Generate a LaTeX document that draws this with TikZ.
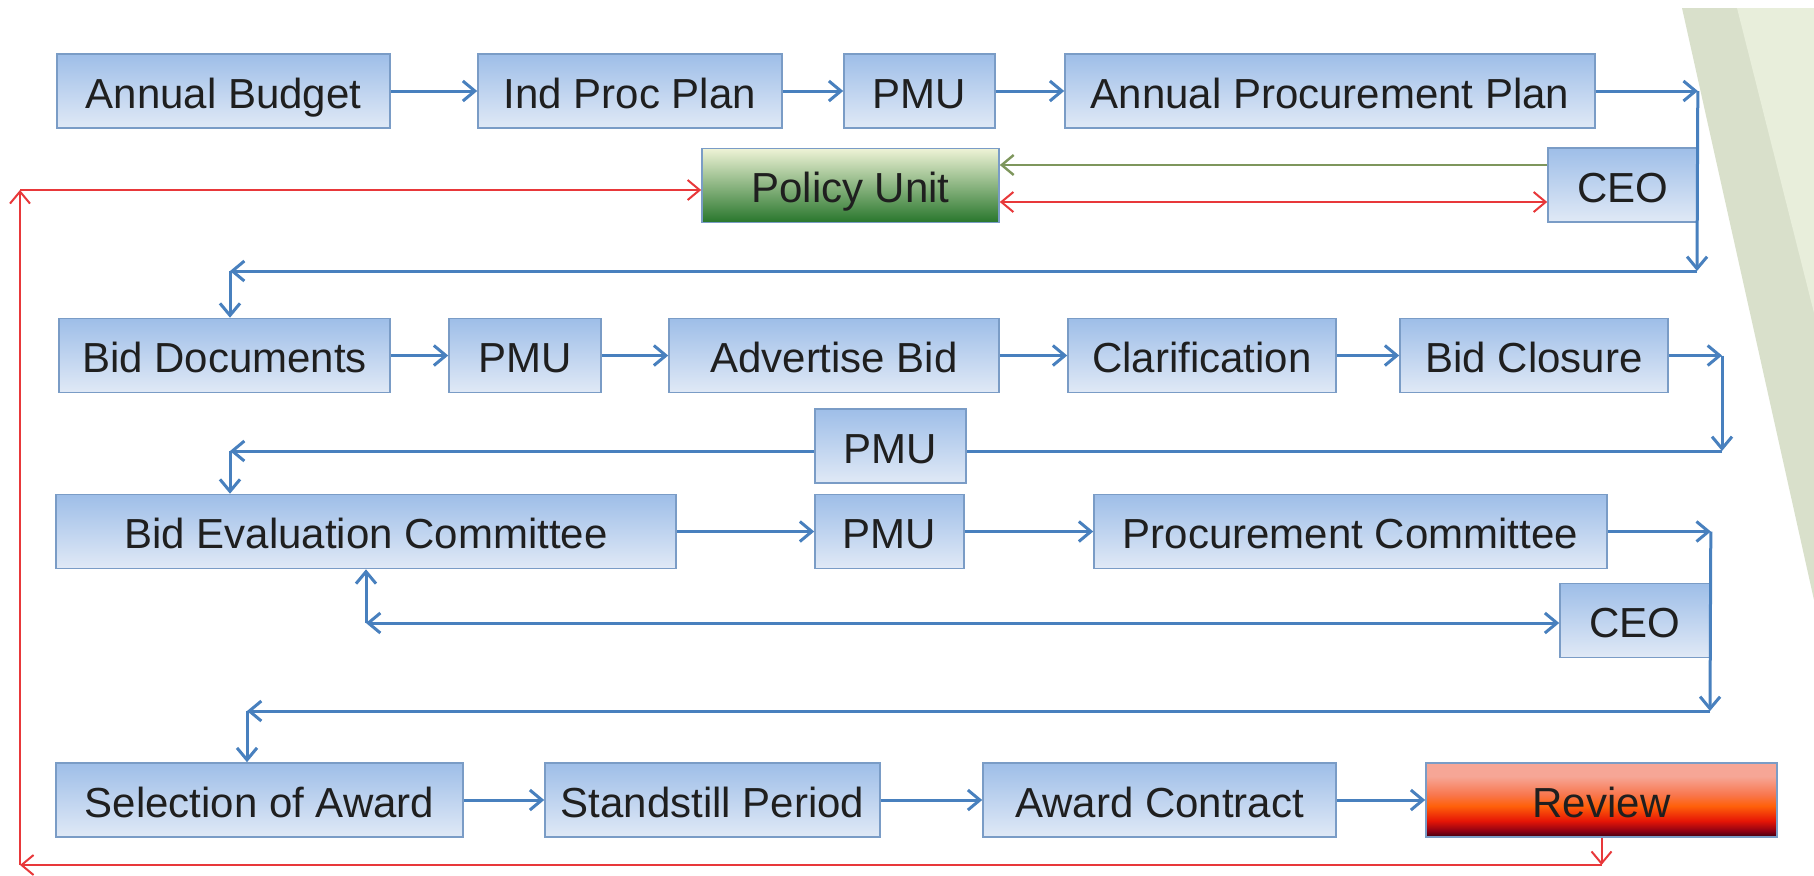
\documentclass[tikz,border=0pt]{standalone}
\usepackage{fontspec}
\setmainfont{Liberation Sans}
\usetikzlibrary{arrows.meta}

\definecolor{boxline}{RGB}{122,156,198}
\definecolor{boxtop}{RGB}{158,190,232}
\definecolor{boxbot}{RGB}{224,233,246}
\definecolor{flowblue}{RGB}{72,128,190}
\definecolor{flowred}{RGB}{232,56,58}
\definecolor{flowolive}{RGB}{126,150,92}
\definecolor{policytop}{RGB}{238,243,214}
\definecolor{policymid}{RGB}{132,182,104}
\definecolor{policybot}{RGB}{40,118,44}
\definecolor{revpink}{RGB}{246,166,150}
\definecolor{revpeach}{RGB}{248,120,80}
\definecolor{revorange}{RGB}{255,96,10}
\definecolor{revred}{RGB}{230,22,6}
\definecolor{revmaroon}{RGB}{140,0,20}
\definecolor{revdark}{RGB}{60,0,16}
\definecolor{banddark}{RGB}{217,224,203}
\definecolor{bandlight}{RGB}{232,238,219}

\pgfdeclareverticalshading{reviewshade}{100bp}{color(0bp)=(revdark); color(25bp)=(revdark); color(29bp)=(revmaroon); color(36bp)=(revred); color(46bp)=(revorange); color(54bp)=(revpeach); color(66bp)=(revpink); color(100bp)=(revpink)}

\begin{document}
\begin{tikzpicture}[x=0.5pt,y=0.5pt,yscale=-1,xscale=1,
  >={Straight Barb[length=6pt,width=10pt]},
  boxbase/.style={draw=boxline, line width=0.8pt, inner sep=0pt, minimum height=37pt, text height=17pt, text depth=0pt, font=\fontsize{21}{25}\selectfont, text=black!88},
  box/.style={boxbase, top color=boxtop, bottom color=boxbot},
  policybox/.style={boxbase, top color=policytop, middle color=policymid, bottom color=policybot},
  reviewbox/.style={boxbase, shade, shading=reviewshade},
  flow/.style={draw=flowblue, line width=1.5pt},
  redflow/.style={draw=flowred, line width=1pt},
  oliveflow/.style={draw=flowolive, line width=1.2pt}]
\useasboundingbox (0,0) rectangle (1814,875);
\fill[white] (0,0) rectangle (1814,875);
%Background band
\fill[banddark] (1682,8) -- (1814,8) -- (1814,600) -- cycle;
\fill[bandlight] (1737,8) -- (1814,8) -- (1814,313) -- cycle;

%Row 1
\node (budget) at (223.5,91) [box, minimum width=166.5pt] {Annual Budget};
\node (indplan) at (630,91) [box, minimum width=152pt] {Ind Proc Plan};
\node (pmuA) at (919.5,91) [box, minimum width=75.5pt] {PMU};
\node (app) at (1330,91) [box, minimum width=265pt] {Annual Procurement Plan};
\node (policy) at (850.5,185.5) [policybox, minimum width=148.5pt] {Policy Unit};
\node (ceoA) at (1622.5,185) [box, minimum width=74.5pt] {CEO};
\coordinate (cA1) at (ceoA.east |- app.east);
\coordinate (cA2) at (1697,271);
\coordinate (cA3) at (230,271);

%Row 2
\node (docs) at (224.5,355.5) [box, minimum width=165.5pt] {Bid Documents};
\node (pmuB) at (525,355.5) [box, minimum width=76pt] {PMU};
\node (advert) at (834,355.5) [box, minimum width=165pt] {Advertise Bid};
\node (clarif) at (1202,355.5) [box, minimum width=134pt] {Clarification};
\node (closure) at (1534,355.5) [box, minimum width=134pt] {Bid Closure};
\node (pmuC) at (890.5,446) [box, minimum width=75.5pt] {PMU};
\coordinate (cB1) at (1722,355.5);
\coordinate (cB2) at (1722,451);
\coordinate (cB3) at (230,451);

%Row 3
\node (bec) at (366,531.5) [box, minimum width=310pt] {Bid Evaluation Committee};
\node (pmuD) at (889.5,531.5) [box, minimum width=74.5pt] {PMU};
\node (pc) at (1350.5,531.5) [box, minimum width=256.5pt] {Procurement Committee};
\node (ceoB) at (1635,620.5) [box, minimum width=75pt] {CEO};
\coordinate (cC1) at (ceoB.east |- pc.east);
\coordinate (cC2) at (1710,711);
\coordinate (cC3) at (247,711);
\coordinate (cD) at (bec.south |- 0,623);

%Row 4
\node (sel) at (259.5,800) [box, minimum width=203.5pt] {Selection of Award};
\node (stand) at (712.5,800) [box, minimum width=167.5pt] {Standstill Period};
\node (award) at (1159.5,800) [box, minimum width=176.5pt] {Award Contract};
\node (review) at (1601.5,800) [reviewbox, minimum width=175.5pt] {Review};
\coordinate (rA) at (review.south |- 0,865);
\coordinate (rB) at (20,865);
\coordinate (rC) at (20,190);

%Blue connectors
\draw[flow,->] (budget) -- (indplan);
\draw[flow,->] (indplan) -- (pmuA);
\draw[flow,->] (pmuA) -- (app);
\draw[flow,->] (app.east) -- (cA1);
\draw[flow,->] (cA1) -- (cA2);
\draw[flow,->] (cA2) -- (cA3);
\draw[flow,->] (cA3) -- (cA3 |- docs.north);

\draw[flow,->] (docs) -- (pmuB);
\draw[flow,->] (pmuB) -- (advert);
\draw[flow,->] (advert) -- (clarif);
\draw[flow,->] (clarif) -- (closure);
\draw[flow,->] (closure.east) -- (cB1);
\draw[flow,->] (cB1) -- (cB2);
\draw[flow] (cB2) -- (cB2 -| pmuC.east);
\draw[flow,->] (pmuC.west |- cB2) -- (cB3);
\draw[flow,->] (cB3) -- (cB3 |- bec.north);

\draw[flow,->] (bec) -- (pmuD);
\draw[flow,->] (pmuD) -- (pc);
\draw[flow,->] (pc.east) -- (cC1);
\draw[flow,->] (cC1) -- (cC2);
\draw[flow,->] (cC2) -- (cC3);
\draw[flow,->] (cC3) -- (cC3 |- sel.north);
\draw[flow,<->] (cD) -- (cD -| ceoB.west);
\draw[flow,->] (cD) -- (bec.south);

\draw[flow,->] (sel) -- (stand);
\draw[flow,->] (stand) -- (award);
\draw[flow,->] (award) -- (review);

%Policy Unit links
\draw[oliveflow,->] (ceoA.west |- 0,165) -- (policy.east |- 0,165);
\draw[redflow,<->] (policy.east |- 0,202) -- (ceoA.west |- 0,202);
\draw[redflow,->] (review.south) -- (rA);
\draw[redflow,->] (rA) -- (rB);
\draw[redflow,->] (rB) -- (rC);
\draw[redflow,->] (rC) -- (rC -| policy.west);

\end{tikzpicture}
\end{document}
